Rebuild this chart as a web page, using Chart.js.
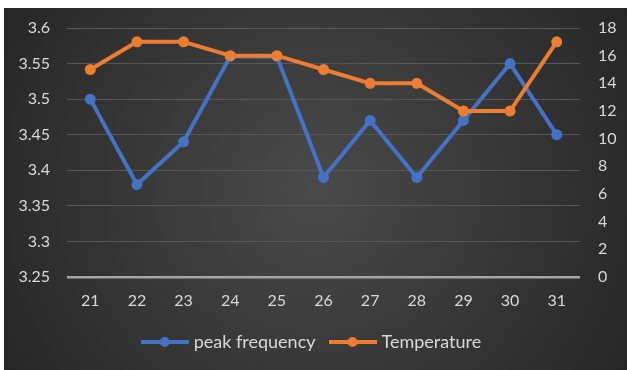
<!DOCTYPE html>
<html>
<head>
<meta charset="utf-8">
<script src="https://cdn.jsdelivr.net/npm/chart.js@4/dist/chart.umd.min.js"></script>
<style>
  html, body { margin: 0; padding: 0; background: #ffffff; }
  #wrap { width: 627px; height: 370px; position: relative; }
</style>
</head>
<body>
<div id="wrap"><canvas id="c" width="627" height="370"></canvas></div>
<script>
// Days of the month on the horizontal axis
const days = ['21', '22', '23', '24', '25', '26', '27', '28', '29', '30', '31'];
// Peak frequency (left axis)
const peakFrequency = [3.50, 3.38, 3.44, 3.56, 3.56, 3.39, 3.47, 3.39, 3.47, 3.55, 3.45];
// Temperature (right axis)
const temperature = [15, 17, 17, 16, 16, 15, 14, 14, 12, 12, 17];
// Axis tick settings
const freqTicks = { min: 3.25, max: 3.6, step: 0.05 };
const tempTicks = { min: 0, max: 18, step: 2 };

const BLUE = '#4472C4';
const ORANGE = '#ED7D31';
const TEXT = '#D9D9D9';
const FONT = 'Lato, "Open Sans", sans-serif';

// Legend swatch: a short line with a dot in the middle
function swatch(color) {
  const cv = document.createElement('canvas');
  cv.width = 48; cv.height = 12;
  const g = cv.getContext('2d');
  g.strokeStyle = color; g.lineWidth = 4;
  g.beginPath(); g.moveTo(0, 6); g.lineTo(48, 6); g.stroke();
  g.fillStyle = color;
  g.beginPath(); g.arc(24, 6, 5, 0, Math.PI * 2); g.fill();
  return cv;
}

// Dark panel with a soft radial glow, drawn behind the chart
const panelBg = {
  id: 'panelBg',
  beforeDraw(chart) {
    const { ctx, width, height } = chart;
    ctx.save();
    ctx.fillStyle = '#ffffff';
    ctx.fillRect(0, 0, width, height);
    const x0 = 4, y0 = 8;
    const cx = (x0 + width) / 2, cy = (y0 + height) / 2;
    const grd = ctx.createRadialGradient(cx, cy, 0, cx, cy, Math.hypot(width - x0, height - y0) / 2);
    grd.addColorStop(0, '#4a4a4a');
    grd.addColorStop(1, '#262626');
    ctx.fillStyle = grd;
    ctx.fillRect(x0, y0, width - x0, height - y0);
    ctx.restore();
  }
};

const lineCommon = {
  borderWidth: 4,
  pointRadius: 5.5,
  pointHoverRadius: 5.5,
  pointBorderWidth: 0,
  tension: 0,
  borderCapStyle: 'round',
  borderJoinStyle: 'round'
};

new Chart(document.getElementById('c'), {
  type: 'line',
  data: {
    labels: days,
    datasets: [
      Object.assign({
        label: 'peak frequency',
        data: peakFrequency,
        yAxisID: 'yFreq',
        borderColor: BLUE,
        backgroundColor: BLUE,
        order: 2
      }, lineCommon),
      Object.assign({
        label: 'Temperature',
        data: temperature,
        yAxisID: 'yTemp',
        borderColor: ORANGE,
        backgroundColor: ORANGE,
        order: 1
      }, lineCommon)
    ]
  },
  options: {
    responsive: false,
    animation: false,
    events: [],
    layout: { padding: { top: 28, left: 4, right: 5, bottom: 9 } },
    plugins: {
      tooltip: { enabled: false },
      legend: {
        position: 'bottom',
        labels: {
          color: TEXT,
          font: { family: FONT, size: 18 },
          usePointStyle: true,
          pointStyleWidth: 40,
          boxHeight: 12,
          padding: 17,
          generateLabels(chart) {
            return chart.data.datasets.map((ds, i) => ({
              text: ds.label,
              fillStyle: ds.borderColor,
              strokeStyle: ds.borderColor,
              lineWidth: 0,
              pointStyle: swatch(ds.borderColor),
              fontColor: TEXT,
              hidden: false,
              datasetIndex: i
            }));
          }
        }
      }
    },
    scales: {
      x: {
        offset: true,
        grid: { display: false, offset: true },
        border: { display: false },
        ticks: { color: TEXT, font: { family: FONT, size: 16 }, padding: 6 },
        afterFit(s) { s.height = 39; }
      },
      yFreq: {
        position: 'left',
        min: freqTicks.min,
        max: freqTicks.max,
        border: { display: false },
        grid: {
          drawTicks: false,
          color: (c) => (c.tick && Math.abs(c.tick.value - freqTicks.min) < 1e-9) ? '#A6A6A6' : '#575757',
          lineWidth: (c) => (c.tick && Math.abs(c.tick.value - freqTicks.min) < 1e-9) ? 2.5 : 1
        },
        ticks: {
          stepSize: freqTicks.step,
          color: TEXT,
          font: { family: FONT, size: 16 },
          padding: 17,
          callback: (v) => String(Math.round(v * 100) / 100)
        },
        afterFit(s) { s.width = 63; }
      },
      yTemp: {
        position: 'right',
        min: tempTicks.min,
        max: tempTicks.max,
        border: { display: false },
        grid: { display: false, drawTicks: false },
        ticks: {
          stepSize: tempTicks.step,
          color: TEXT,
          font: { family: FONT, size: 16 },
          padding: 18
        },
        afterFit(s) { s.width = 42; }
      }
    }
  },
  plugins: [panelBg]
});
</script>
</body>
</html>
